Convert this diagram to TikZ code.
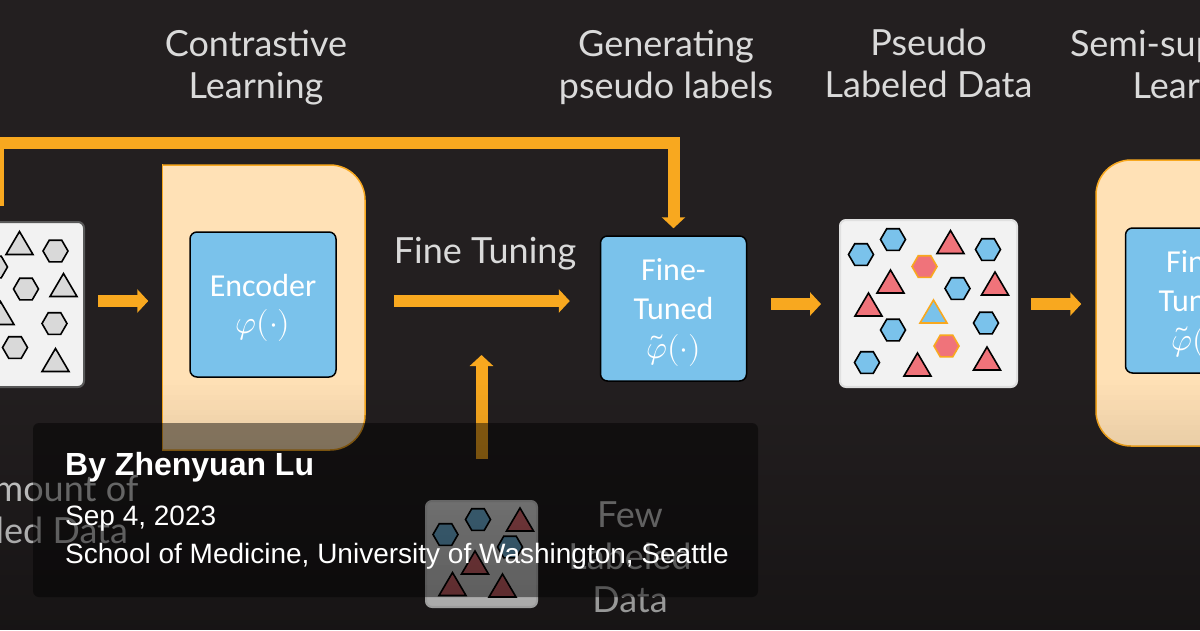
\documentclass[tikz,border=0pt]{standalone}
\usepackage{fontspec}
\usepackage{unicode-math}
\setmainfont{Lato}
\setmathfont{Latin Modern Math}
\newfontfamily\carl{Carlito}
\newfontfamily\arialf{Liberation Sans}
\usetikzlibrary{arrows.meta}
\definecolor{bg}{HTML}{231F20}
\definecolor{orng}{HTML}{F8A81F}
\definecolor{peach}{HTML}{FFE1B6}
\definecolor{skyb}{HTML}{7AC2EB}
\definecolor{rosered}{HTML}{F0737A}
\definecolor{lgray}{HTML}{D9D9D9}
\definecolor{paper}{HTML}{F2F2F2}
\definecolor{labelc}{HTML}{DADADA}
\newcommand\myhex[4]{\draw[line width=1.6pt, fill=#3, draw=#4] (#1,#2) ++(-12.5,0) -- ++(6.25,-10.8) -- ++(12.5,0) -- ++(6.25,10.8) -- ++(-6.25,10.8) -- ++(-12.5,0) -- cycle;}
\newcommand\mytri[4]{\draw[line width=1.6pt, fill=#3, draw=#4] (#1,#2) ++(0,-11.5) -- ++(13.5,23) -- ++(-27,0) -- cycle;}
\tikzset{
  databox/.style={draw=#1, line width=2pt, fill=paper, rounded corners=6pt, inner sep=0pt},
  blubox/.style={draw=black, line width=1.5pt, fill=skyb, rounded corners=7pt, minimum width=146pt, minimum height=145pt, inner sep=0pt},
  boxtext/.style={text=white, font=\carl\fontsize{32}{39}\selectfont, align=center, inner sep=0pt},
  outbox/.style={draw=orng, line width=1.5pt, fill=peach, rounded corners=35pt, inner sep=0pt},
  lbl/.style={text=labelc, font=\fontsize{36}{42}\selectfont, align=center, inner sep=0pt},
  bigarrow/.style={draw=orng, line width=12pt, -{Triangle[width=23pt,length=11pt]}},
  cardtext/.style={anchor=base west, inner sep=0pt, text=white, font=\arialf\fontsize{28}{32}\selectfont}
}
\begin{document}
\begin{tikzpicture}[x=1pt,y=-1pt]
\useasboundingbox (0,0) rectangle (1200,630);
\clip (0,0) rectangle (1200,630);
\fill[bg] (0,0) rectangle (1200,630);

% labels
\node[lbl] (lcl) at (256,68) {Contrastive\\Learning};
\node[lbl] (lgp) at (666,67) {Generating\\pseudo labels};
\node[lbl] (lpl) at (928.5,63.5) {Pseudo\\Labeled Data};
\node[lbl] (lss) at (1200,68) {Semi-supervised\\Learning};
\node[lbl, anchor=base] (lft) at (485,263) {Fine Tuning};
\node[lbl] (llu) at (6,509.5) {Large Amount of\\Unlabeled Data};
\node[lbl, font=\fontsize{36}{42.5}\selectfont] (lfew) at (630,557) {Few\\Labeled\\Data};

% unlabeled data box
\node[databox=black!65, minimum width=176pt, minimum height=165pt] (unl) at (-4,304.5) {};
\mytri{19.5}{243}{lgray}{black}
\myhex{55.5}{251}{lgray}{black}
\myhex{-5}{267}{lgray}{black}
\myhex{26}{289}{lgray}{black}
\mytri{63.5}{285}{lgray}{black}
\mytri{0.5}{313}{lgray}{black}
\myhex{54.5}{323.5}{lgray}{black}
\myhex{15}{347.5}{lgray}{black}
\mytri{55.5}{360}{lgray}{black}

% encoder
\begin{scope}
\clip (163,0) rectangle (1200,630);
\node[outbox, minimum width=237pt, minimum height=285pt] (encout) at (246.5,307.5) {};
\end{scope}
\draw[draw=orng, line width=1.5pt] ([xshift=35pt]encout.north west) -- ([xshift=35pt]encout.south west);
\node[blubox] (enc) at (263,304.5) {};
\node[boxtext, anchor=base] (enct) at (263,296) {Encoder};
\node[boxtext, anchor=base] (encm) at (263,333) {$\varphi(\cdot)$};

% fine tuned
\node[blubox] (ft) at (673.5,308.5) {};
\node[boxtext, anchor=base] (ftt) at (673.5,319) {Fine-\\Tuned};
\node[boxtext, anchor=base] (ftm) at (673.5,358) {$\tilde{\varphi}(\cdot)$};

% pseudo labeled data
\node[databox=black!12, minimum width=177pt, minimum height=167pt] (pd) at (928.5,303.5) {};
\myhex{861}{254.5}{skyb}{black}
\myhex{893}{239.5}{skyb}{black}
\mytri{950.5}{242}{rosered}{black}
\myhex{988}{249.5}{skyb}{black}
\myhex{924.5}{266.5}{rosered}{orng}
\mytri{890.5}{281.5}{rosered}{black}
\myhex{957.5}{288.5}{skyb}{black}
\mytri{995}{283.5}{rosered}{black}
\mytri{868.5}{304.5}{rosered}{black}
\mytri{933.5}{311.5}{skyb}{orng}
\myhex{986}{323}{skyb}{black}
\myhex{893}{330}{skyb}{black}
\myhex{946.5}{346}{rosered}{orng}
\myhex{867}{362.5}{skyb}{black}
\mytri{917.5}{364.5}{rosered}{black}
\mytri{987}{358.5}{rosered}{black}

% semi-supervised
\node[outbox, minimum width=208pt, minimum height=286pt] (rout) at (1200,303) {};
\node[blubox] (rft) at (1198.5,300.5) {};
\node[boxtext, anchor=base] (rftt) at (1198.5,311) {Fine-\\Tuned};
\node[boxtext, anchor=base] (rftm) at (1198.5,350) {$\tilde{\varphi}(\cdot)$};

% few labeled data
\node[databox=black!12, minimum width=111pt, minimum height=106pt] (few) at (481.5,554) {};
\myhex{445.5}{534.5}{skyb}{black}
\myhex{478}{519.5}{skyb}{black}
\mytri{520}{519.5}{rosered}{black}
\myhex{510}{547}{skyb}{black}
\mytri{475}{562.5}{rosered}{black}
\mytri{452.5}{584}{rosered}{black}
\mytri{502.5}{585.5}{rosered}{black}

% arrows
\coordinate (ftin) at (481.5,355);
\draw[bigarrow, shorten <=13pt, shorten >=14pt] ([yshift=3.5pt]unl.east) -- ([xshift=35pt,yshift=6.5pt]encout.west);
\draw[bigarrow, shorten <=28pt, shorten >=30pt] ([yshift=6.5pt]encout.east) -- ([yshift=7.5pt]ft.west);
\draw[bigarrow, shorten <=24pt, shorten >=18pt] ([yshift=4.5pt]ft.east) -- ([yshift=-0.5pt]pd.west);
\draw[bigarrow, shorten <=13pt, shorten >=14pt] ([yshift=-0.5pt]pd.east) -- ([yshift=-1pt]rout.west);
\draw[bigarrow, shorten <=41pt] (few.north) -- (ftin);
\draw[bigarrow, line join=miter, shorten >=7pt] ([xshift=2pt,yshift=15pt]unl.north) -- ++(0,-63) -| (ft.north);

% bottom darkening
\foreach \i in {0,...,49} {
  \pgfmathsetmacro\op{0.33*(\i+0.5)/50}
  \fill[black, fill opacity=\op] (0,{380+5*\i}) rectangle (1200,{385.4+5*\i});
}

% card
\node[fill=black, fill opacity=0.45, rounded corners=6pt, minimum width=725pt, minimum height=174pt, inner sep=0pt] (card) at (395.5,510) {};
\node[cardtext, font=\arialf\bfseries\fontsize{32}{36}\selectfont] (author) at (65,475) {By Zhenyuan Lu};
\node[cardtext] (date) at (65,525) {Sep 4, 2023};
\node[cardtext] (inst) at (65,563) {School of Medicine, University of Washington, Seattle};
\end{tikzpicture}
\end{document}
